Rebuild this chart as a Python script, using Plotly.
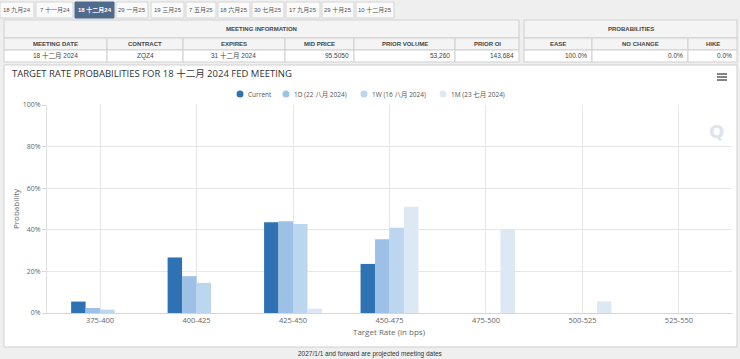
import plotly.graph_objects as go

# ---------------- data ----------------
categories = ["375-400", "400-425", "425-450", "450-475", "475-500", "500-525", "525-550"]
current = [5.5, 26.7, 43.6, 23.6, 0.0, 0.0, 0.0]
one_day = [2.4, 17.7, 44.1, 35.5, 0.0, 0.0, 0.0]
one_week = [1.6, 14.5, 42.8, 41.0, 0.0, 0.0, 0.0]
one_month = [0.0, 0.0, 2.1, 51.1, 40.2, 5.6, 0.0]
series_names = ["Current", "1D (22 八月 2024)", "1W (16 八月 2024)", "1M (23 七月 2024)"]
series_colors = ["#2e72b3", "#9dc1e6", "#bcd6ef", "#dce9f5"]
y_tick_values = [0, 20, 40, 60, 80, 100]
y_tick_labels = ["0%", "20%", "40%", "60%", "80%", "100%"]

tab_labels = ["18 九月24", "7 十一月24", "18 十二月24", "29 一月25", "19 三月25", "7 五月25",
              "18 六月25", "30 七月25", "17 九月25", "29 十月25", "10 十二月25"]
selected_tab = 2

info_headers = ["MEETING DATE", "CONTRACT", "EXPIRES", "MID PRICE", "PRIOR VOLUME", "PRIOR OI"]
info_values = ["18 十二月 2024", "ZQZ4", "31 十二月 2024", "95.5050", "53,260", "143,684"]
prob_headers = ["EASE", "NO CHANGE", "HIKE"]
prob_values = ["100.0%", "0.0%", "0.0%"]

title_text = "TARGET RATE PROBABILITIES FOR 18 十二月 2024 FED MEETING"
footer_text = "2027/1/1 and forward are projected meeting dates"

# ---------------- layout geometry ----------------
W, H = 740, 359
L, R, T, B = 47, 8, 105, 46
PW = W - L - R
PH = H - T - B


def X(px):
    return (px - L) / PW


def Y(py):
    return (H - B - py) / PH


CJK = "Noto Sans CJK SC"
CHART_FONT = "Open Sans, " + CJK
TABLE_FONT = "Liberation Sans, Arial, " + CJK

fig = go.Figure()
for name, vals, col in zip(series_names, [current, one_day, one_week, one_month], series_colors):
    fig.add_trace(go.Bar(x=categories, y=vals, name=name, marker=dict(color=col, line=dict(width=0)),
                         showlegend=False))

shapes = []
annotations = []


def rect(x0, y0, x1, y1, fill, line="#cfcfcf", width=1, layer="below"):
    shapes.append(dict(type="rect", xref="paper", yref="paper", x0=X(x0), x1=X(x1), y0=Y(y1), y1=Y(y0),
                       fillcolor=fill, line=dict(color=line, width=width), layer=layer))


def text(px, py, s, size, color="#333", xanchor="center", family=TABLE_FONT, bold=False):
    if bold:
        s = "<b>" + s + "</b>"
    annotations.append(dict(xref="paper", yref="paper", x=X(px), y=Y(py), text=s, showarrow=False,
                            xanchor=xanchor, yanchor="middle", font=dict(size=size, color=color, family=family)))


# tabs
tab_x = [(0, 34), (36, 73), (75, 114), (116, 148), (151, 184), (186, 216), (218, 250), (252, 284),
         (286, 320), (322, 354), (356, 394)]
for i, ((a, b), lab) in enumerate(zip(tab_x, tab_labels)):
    sel = i == selected_tab
    rect(a, 2, b, 18, "#4f6b8c" if sel else "#fafafa", line="#4f6b8c" if sel else "#d5d5d5")
    text((a + b) / 2, 10, lab, 6, color="#ffffff" if sel else "#555", bold=sel)

# meeting information table
ix = [4, 107, 183, 285, 354, 455, 519]
rect(4, 20, 519, 38, "#f4f4f4")
text((4 + 519) / 2, 29, "MEETING INFORMATION", 6, color="#444", bold=True)
for i in range(6):
    rect(ix[i], 38, ix[i + 1], 50, "#f4f4f4")
    rect(ix[i], 50, ix[i + 1], 62, "#ffffff")
    text((ix[i] + ix[i + 1]) / 2, 44, info_headers[i], 6, color="#444", bold=True)
    if i < 3:
        text((ix[i] + ix[i + 1]) / 2, 56, info_values[i], 6.5, color="#444")
    else:
        text(ix[i + 1] - 3, 56, info_values[i], 6.5, color="#444", xanchor="right")

# probabilities table
px_ = [524, 592, 688, 737]
rect(524, 20, 737, 38, "#f4f4f4")
text((524 + 737) / 2, 29, "PROBABILITIES", 6, color="#444", bold=True)
for i in range(3):
    rect(px_[i], 38, px_[i + 1], 50, "#f4f4f4")
    rect(px_[i], 50, px_[i + 1], 62, "#ffffff")
    text((px_[i] + px_[i + 1]) / 2, 44, prob_headers[i], 6, color="#444", bold=True)
    text(px_[i + 1] - 3, 56, prob_values[i], 6.5, color="#444", xanchor="right")

# chart panel
rect(4, 65, 737, 347, "#ffffff", line="#cfcfcf")
text(10, 73, title_text, 9.5, color="#333", xanchor="left", family=CHART_FONT)

# hamburger menu
for yy in (74, 77, 80):
    shapes.append(dict(type="line", xref="paper", yref="paper", x0=X(717), x1=X(727), y0=Y(yy), y1=Y(yy),
                       line=dict(color="#666", width=1.6)))

# watermark
text(716, 131, "Q", 18, color="#dde3ea", family="DejaVu Sans", bold=True)

# legend
leg_marker_x = [240, 286, 364, 443]
for mx, name, col in zip(leg_marker_x, series_names, series_colors):
    shapes.append(dict(type="circle", xref="paper", yref="paper", x0=X(mx - 3.5), x1=X(mx + 3.5),
                       y0=Y(97.5), y1=Y(90.5), fillcolor=col, line=dict(width=0)))
    text(mx + 6, 94, name, 6.5, color="#555", xanchor="left", family=CHART_FONT)

# axis titles
text((L + W - R) / 2, 331, "Target Rate (in bps)", 8, color="#666", family=CHART_FONT)
annotations.append(dict(xref="paper", yref="paper", x=X(15), y=Y(209), text="Probability", textangle=-90,
                        showarrow=False, xanchor="center", yanchor="middle",
                        font=dict(size=8, color="#666", family=CHART_FONT)))

# footer
text(370, 354, footer_text, 6.5, color="#333")

fig.update_layout(
    width=W, height=H,
    margin=dict(l=L, r=R, t=T, b=B, pad=0),
    paper_bgcolor="#efefef",
    plot_bgcolor="#ffffff",
    barmode="group",
    bargap=0.4,
    bargroupgap=0.0,
    shapes=shapes,
    annotations=annotations,
    showlegend=False,
    font=dict(family=CHART_FONT),
    xaxis=dict(type="category", range=[-0.55, 6.55], showgrid=True, gridcolor="#e6e6e6",
               showline=True, linecolor="#ccd6eb", linewidth=1, ticks="",
               tickfont=dict(size=7.5, color="#666", family=CHART_FONT), fixedrange=True),
    yaxis=dict(range=[0, 100], tickmode="array", tickvals=y_tick_values, ticktext=y_tick_labels,
               showgrid=True, gridcolor="#e6e6e6", showline=True, linecolor="#e0e0e0",
               ticks="outside", ticklen=4, tickcolor="#d8d8d8", zeroline=False,
               tickfont=dict(size=7, color="#666", family=CHART_FONT), fixedrange=True),
)

fig.write_html("out.html", config={"displayModeBar": False})
